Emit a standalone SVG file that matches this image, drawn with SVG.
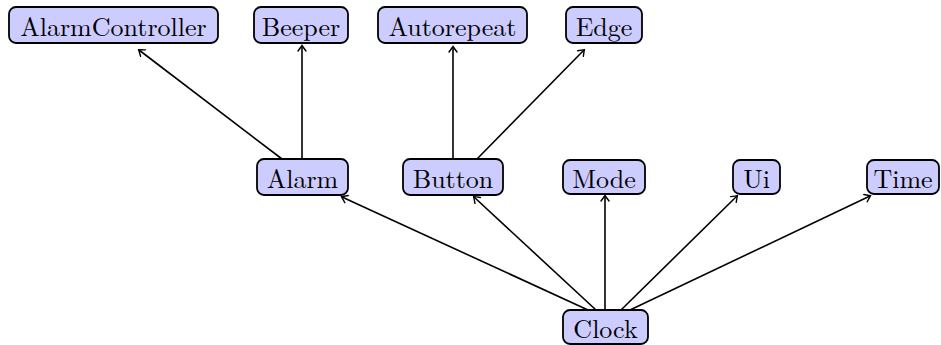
<svg xmlns="http://www.w3.org/2000/svg" width="941" height="345" viewBox="0 0 941 345">
  <style>
    .box { fill: #ccccff; stroke: #000; stroke-width: 1.8; }
    .lbl { font-family: "Latin Modern Roman", "Liberation Serif", serif; font-size: 26px; fill: #000; text-anchor: middle; dominant-baseline: central; }
    .edge { stroke: #000; stroke-width: 1.6; fill: none; marker-end: url(#arr); }
  </style>
  <defs>
    <marker id="arr" viewBox="-6 -5 8 10" markerWidth="8" markerHeight="10" refX="0" refY="0" orient="auto" markerUnits="userSpaceOnUse">
      <path d="M -5 -4 Q -1 -1 0.5 0 Q -1 1 -5 4" fill="none" stroke="#000" stroke-width="1.4" stroke-linecap="round"/>
    </marker>
  </defs>
  <rect width="941" height="345" fill="#fff"/>
  <g id="connectors">
    <line class="edge" x1="282" y1="159" x2="139" y2="50"/>
    <line class="edge" x1="302" y1="159" x2="302" y2="46"/>
    <line class="edge" x1="453" y1="159" x2="453" y2="47"/>
    <line class="edge" x1="477" y1="159" x2="584" y2="50"/>
    <line class="edge" x1="588" y1="310" x2="342" y2="197"/>
    <line class="edge" x1="596" y1="310" x2="474" y2="197"/>
    <line class="edge" x1="605" y1="310" x2="605" y2="196"/>
    <line class="edge" x1="621" y1="310" x2="737" y2="196"/>
    <line class="edge" x1="630" y1="310" x2="870" y2="196"/>
  </g>
  <g id="AlarmController"><rect class="box" x="9" y="7" width="209" height="36" rx="7"/><text class="lbl" x="113.5" y="25">AlarmController</text></g>
  <g id="Beeper"><rect class="box" x="254" y="7" width="94" height="36" rx="7"/><text class="lbl" x="301" y="25">Beeper</text></g>
  <g id="Autorepeat"><rect class="box" x="378" y="7" width="149" height="36" rx="7"/><text class="lbl" x="452.5" y="25">Autorepeat</text></g>
  <g id="Edge"><rect class="box" x="566" y="7" width="76" height="36" rx="7"/><text class="lbl" x="604" y="25">Edge</text></g>
  <g id="Alarm"><rect class="box" x="257" y="159" width="91" height="36" rx="7"/><text class="lbl" x="302.5" y="177">Alarm</text></g>
  <g id="Button"><rect class="box" x="403" y="159" width="100" height="36" rx="7"/><text class="lbl" x="453" y="177">Button</text></g>
  <g id="Mode"><rect class="box" x="563" y="160" width="82" height="34" rx="7"/><text class="lbl" x="604" y="177">Mode</text></g>
  <g id="Ui"><rect class="box" x="733" y="160" width="47" height="34" rx="7"/><text class="lbl" x="756.5" y="177">Ui</text></g>
  <g id="Time"><rect class="box" x="867" y="160" width="72" height="34" rx="7"/><text class="lbl" x="903" y="177">Time</text></g>
  <g id="Clock"><rect class="box" x="563" y="310" width="85" height="34" rx="7"/><text class="lbl" x="605.5" y="327">Clock</text></g>
</svg>
